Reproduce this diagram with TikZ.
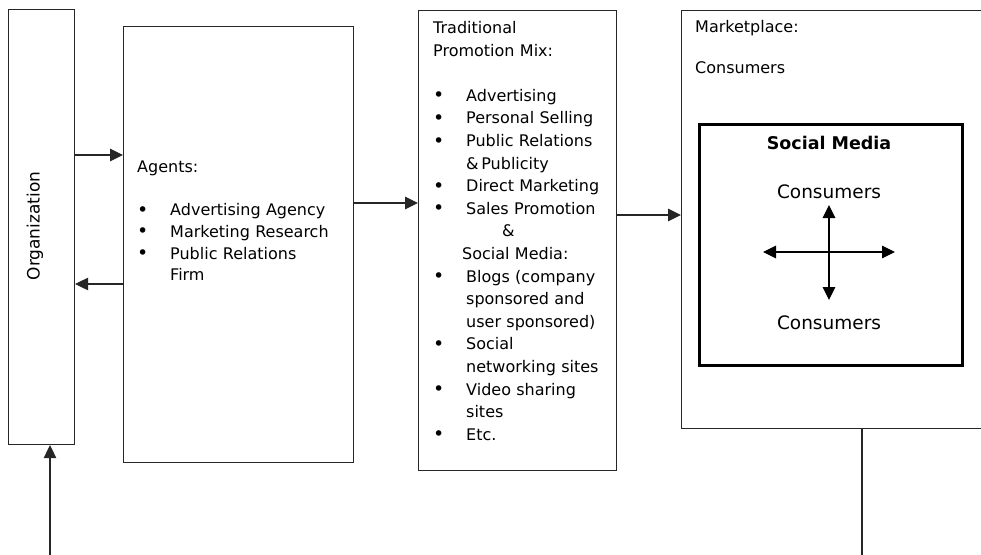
\documentclass[tikz,border=0pt]{standalone}
\usepackage{fontspec}
\setmainfont{DejaVu Sans}
\usetikzlibrary{arrows.meta}
\newcommand{\mybul}{\makebox[33pt][l]{\raisebox{-0.6pt}{\fontsize{19}{20}\selectfont\textbullet}}}
\newcommand{\myind}{\hspace*{33pt}}
\begin{document}
\begin{tikzpicture}[x=1pt,y=-1pt,
  box/.style={draw=black!85, line width=1.1pt, rectangle, inner sep=0pt, anchor=north west},
  thickbox/.style={box, draw=black, line width=2.6pt},
  arr/.style={draw=black!85, line width=1.1pt, -{Triangle[length=13pt,width=12.5pt]}},
  plain/.style={draw=black!85, line width=1.1pt},
  dbl/.style={draw=black, line width=1.2pt, {Triangle[length=13pt,width=12.5pt]}-{Triangle[length=13pt,width=12.5pt]}},
  txt/.style={inner sep=0pt, anchor=base west, align=left},
]
\useasboundingbox (0,0) rectangle (981,554);
\clip (0,0) rectangle (981,554);
% boxes
\node[box, minimum width=66pt, minimum height=435pt] (org) at (8,9) {};
\node[box, minimum width=230pt, minimum height=436pt] (agents) at (123,26) {};
\node[box, minimum width=198pt, minimum height=460pt] (trad) at (418,10) {};
\node[box, minimum width=330pt, minimum height=418pt] (market) at (681,10) {};
\node[thickbox, minimum width=263pt, minimum height=241pt] (social) at (698,123) {};
% texts
\node[rotate=90, inner sep=0pt, font=\fontsize{17}{20}\selectfont] (orgtext) at (35,226) {Organization};
\node[txt, text width=215pt, font=\fontsize{16}{21.75}\selectfont] (agtext) at (137,172)
  {Agents:\\ \mbox{}\\
   \mybul Advertising Agency\\
   \mybul Marketing Research\\
   \mybul Public Relations\\
   \myind Firm};
\node[txt, text width=185pt, font=\fontsize{16}{22.6}\selectfont] (trtext) at (433,33.5)
  {Traditional\\
   Promotion Mix:\\ \mbox{}\\
   \mybul Advertising\\
   \mybul Personal Selling\\
   \mybul Public Relations\\
   \myind \&\,Publicity\\
   \mybul Direct Marketing\\
   \mybul Sales Promotion\\
   \hspace*{69pt}\&\\
   \hspace*{29pt}Social Media:\\
   \mybul Blogs (company\\
   \myind sponsored and\\
   \myind user sponsored)\\
   \mybul Social\\
   \myind networking sites\\
   \mybul Video sharing\\
   \myind sites\\
   \mybul Etc.};
\node[txt, font=\fontsize{16}{20}\selectfont] (mktitle) at (695,32.5) {Marketplace:};
\node[txt, font=\fontsize{16}{20}\selectfont] (mkcons) at (695,73.5) {Consumers};
\node[inner sep=0pt, anchor=base, font=\fontsize{17.5}{20}\selectfont\bfseries] (smtitle) at (829,149.4) {Social Media};
\node[inner sep=0pt, anchor=base, font=\fontsize{18.5}{22}\selectfont] (cons1) at (829,198.7) {Consumers};
\node[inner sep=0pt, anchor=base, font=\fontsize{18.5}{22}\selectfont] (cons2) at (829,329.7) {Consumers};
% cross arrows
\coordinate (vt) at (829,205);
\coordinate (vb) at (829,300);
\coordinate (hl) at (763,252);
\coordinate (hr) at (895,252);
\draw[dbl] (vt) -- (vb);
\draw[dbl] (hl) -- (hr);
% connectors
\draw[arr] (org.east |- 0,155) -- (agents.west |- 0,155);
\draw[arr] (agents.west |- 0,284) -- (org.east |- 0,284);
\draw[arr] (agents.east |- 0,203) -- (trad.west |- 0,203);
\draw[arr] (trad.east |- 0,215) -- (market.west |- 0,215);
\coordinate (orgin) at (50,556);
\draw[arr] (orgin) -- (orgin |- org.south);
\coordinate (mktout) at (862,556);
\draw[plain] (market.south -| mktout) -- (mktout);
\end{tikzpicture}
\end{document}
